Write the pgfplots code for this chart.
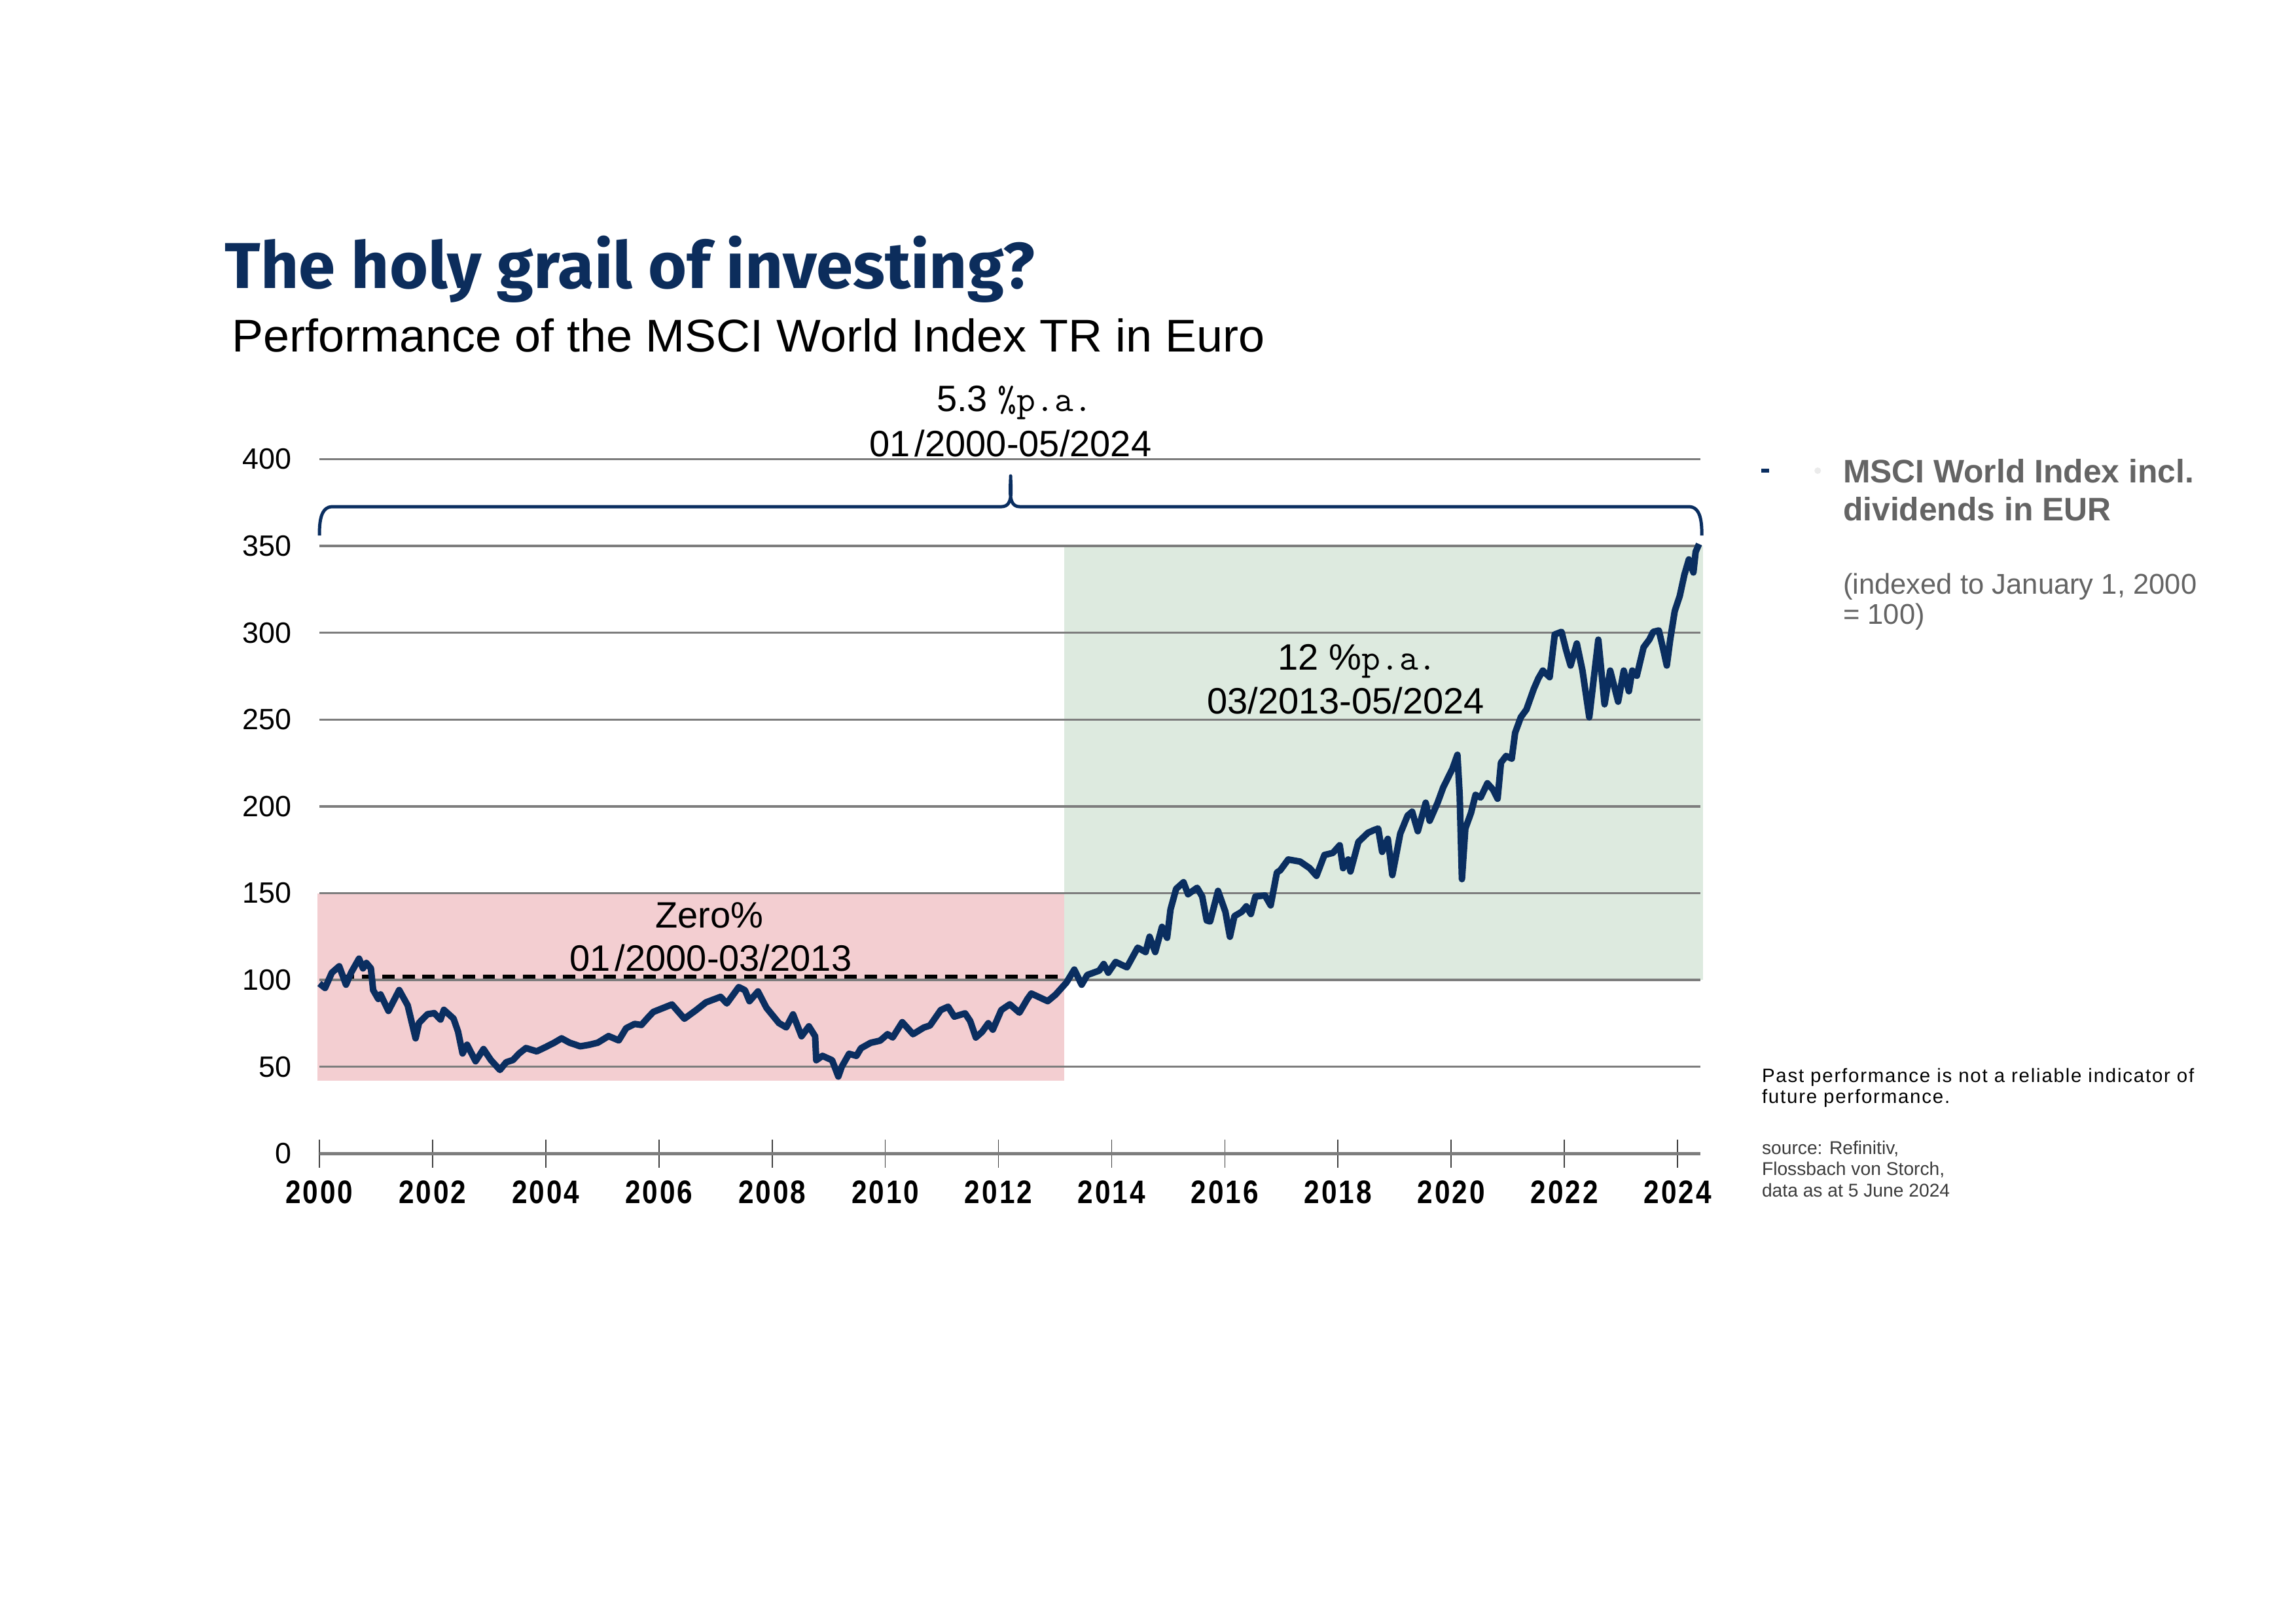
\documentclass[border=0pt]{standalone}
\usepackage{fontspec}
\setmainfont{Liberation Sans}
\newfontfamily\titlefont{Fira Sans}
\newfontfamily\yearfont[FakeStretch=0.85,LetterSpace=6]{Liberation Sans}
\newfontfamily\notefont[LetterSpace=6]{Liberation Sans}
\usepackage{pgfplots}
\usepackage{pgfplotstable}
\pgfplotsset{compat=1.18}

\definecolor{navy}{RGB}{10,46,96}
\definecolor{titlenavy}{RGB}{12,45,92}
\definecolor{pinkbg}{RGB}{243,206,209}
\definecolor{greenbg}{RGB}{221,234,223}
\definecolor{gridgray}{RGB}{125,125,125}
\definecolor{legendgray}{RGB}{100,100,100}
\definecolor{srcgray}{RGB}{60,60,60}

\pgfplotstableread{
year value
2000.00 98.0
2000.10 95.4
2000.22 104.2
2000.35 107.9
2000.47 97.3
2000.56 104.2
2000.70 112.3
2000.77 106.7
2000.83 109.8
2000.91 106.7
2000.95 94.2
2001.04 89.1
2001.08 91.7
2001.22 82.2
2001.41 94.2
2001.56 85.4
2001.70 66.4
2001.76 75.3
2001.91 80.3
2002.03 80.9
2002.14 77.2
2002.20 82.8
2002.37 77.8
2002.45 70.3
2002.53 57.7
2002.61 62.7
2002.76 53.2
2002.90 60.2
2003.03 53.9
2003.19 48.2
2003.30 52.6
2003.42 53.9
2003.53 57.7
2003.65 60.8
2003.84 58.9
2004.00 61.4
2004.15 63.9
2004.28 66.4
2004.42 63.9
2004.61 61.8
2004.77 62.7
2004.92 63.9
2005.11 67.7
2005.29 65.2
2005.42 72.2
2005.57 74.7
2005.69 74.1
2005.81 78.5
2005.90 81.6
2006.23 85.9
2006.45 77.7
2006.66 82.7
2006.83 87.1
2007.09 90.3
2007.20 86.5
2007.41 95.9
2007.52 94.1
2007.60 87.8
2007.75 93.4
2007.90 84.0
2008.12 75.2
2008.25 72.7
2008.37 80.2
2008.52 67.6
2008.65 73.3
2008.76 67.6
2008.78 53.8
2008.89 56.3
2009.06 53.8
2009.17 44.4
2009.23 50.0
2009.36 57.5
2009.49 56.3
2009.57 60.7
2009.74 63.8
2009.91 65.1
2010.04 68.8
2010.13 66.9
2010.30 75.7
2010.49 68.8
2010.68 72.6
2010.79 73.8
2010.98 82.7
2011.11 84.6
2011.22 78.9
2011.41 80.8
2011.50 76.4
2011.60 66.9
2011.71 70.1
2011.82 75.1
2011.90 71.4
2012.05 82.7
2012.20 86.0
2012.37 81.2
2012.51 89.0
2012.58 92.2
2012.87 87.8
2013.01 91.6
2013.20 98.5
2013.34 106.0
2013.47 97.3
2013.57 102.9
2013.78 105.4
2013.86 109.2
2013.94 104.2
2014.07 110.4
2014.27 107.3
2014.46 118.6
2014.60 116.1
2014.67 124.9
2014.77 116.1
2014.89 130.6
2014.98 124.3
2015.04 140.6
2015.14 152.5
2015.27 156.3
2015.35 149.4
2015.51 153.1
2015.60 148.1
2015.68 134.3
2015.74 133.7
2015.88 151.3
2016.01 139.3
2016.09 124.9
2016.17 136.8
2016.30 139.3
2016.38 142.4
2016.46 138.0
2016.54 148.1
2016.71 148.7
2016.81 143.0
2016.92 161.9
2016.98 163.2
2017.12 169.4
2017.33 168.2
2017.50 164.4
2017.62 160.0
2017.76 172.0
2017.91 173.2
2018.03 177.6
2018.09 164.4
2018.18 169.4
2018.22 162.5
2018.36 179.5
2018.53 184.8
2018.64 186.4
2018.71 187.2
2018.78 173.8
2018.88 181.3
2018.96 160.4
2019.10 184.3
2019.23 194.7
2019.31 196.9
2019.41 185.7
2019.55 202.1
2019.62 191.7
2019.76 202.1
2019.86 211.0
2020.02 221.5
2020.11 229.7
2020.15 206.6
2020.19 158.1
2020.25 187.2
2020.35 196.2
2020.43 206.6
2020.52 205.1
2020.64 213.3
2020.74 209.6
2020.82 204.4
2020.88 225.2
2020.97 229.0
2021.07 227.5
2021.13 242.4
2021.23 251.3
2021.33 255.8
2021.46 267.7
2021.54 273.7
2021.62 278.2
2021.74 274.4
2021.83 299.0
2021.95 300.5
2022.03 290.1
2022.11 281.1
2022.22 293.8
2022.32 278.2
2022.44 251.3
2022.52 273.7
2022.60 296.0
2022.71 258.8
2022.81 278.2
2022.95 260.3
2023.05 278.2
2023.14 266.3
2023.20 278.2
2023.28 275.2
2023.40 291.6
2023.50 296.0
2023.57 300.5
2023.67 301.3
2023.75 290.1
2023.81 281.1
2023.87 296.0
2023.95 312.4
2024.04 321.3
2024.12 333.3
2024.20 342.2
2024.28 334.7
2024.32 346.6
2024.38 351.1
}\msci

\pgfplotsset{
  common/.style={
    at={(41.316mm,60.789mm)}, anchor=south west,
    scale only axis, width=178.61mm, height=89.83mm,
    xmin=2000, xmax=2024.4, ymin=0, ymax=400,
    clip=false,
  }
}

\begin{document}
\begin{tikzpicture}
\fill[white] (0,0) rectangle (297mm,210mm);
\useasboundingbox (0,0) rectangle (297mm,210mm);
% background shaded periods
\begin{axis}[common, hide axis]
\addplot[draw=none, fill=pinkbg, mark=none]
  coordinates {(1999.97,42) (1999.97,150) (2013.16,150) (2013.16,42)};
\addplot[draw=none, fill=greenbg, mark=none]
  coordinates {(2013.16,100) (2013.16,350) (2024.45,350) (2024.45,100)};
\end{axis}
% main axis
\begin{axis}[
  common,
  axis lines*=left,
  y axis line style={draw=none},
  x axis line style={gridgray, line width=1.1pt},
  xtick={2000,2002,...,2024},
  ytick={0,50,...,400},
  ymajorgrids,
  grid style={gridgray, line width=0.8pt},
  tick align=center,
  major tick length=3.6mm,
  xtick style={draw=black!75, line width=0.4pt},
  ytick style={draw=none},
  scaled x ticks=false,
  /pgf/number format/assume math mode=true,
  /pgf/number format/1000 sep={},
  xticklabel style={font=\yearfont\bfseries\fontsize{12}{12}\selectfont, anchor=north, inner sep=0pt, yshift=-1.63mm},
  yticklabel style={font=\fontsize{10.8}{10}\selectfont, anchor=east, inner sep=0pt, xshift=-1.74mm},
]
\addplot[black, line width=1.4pt, dash pattern=on 1.6mm off 1.0mm, mark=none]
  coordinates {(2000.4,102) (2013.17,102)};
\addplot[navy, line width=2.4pt, line join=round, mark=none] table[x=year,y=value]{\msci};
\end{axis}

\begin{scope}[x=0.084664mm, y=-0.084664mm, shift={(0,210mm)}]
% brace
\draw[navy, line width=1.2pt, line join=round]
  (488,818) to[out=90,in=180] (508,774) -- (1530,774)
  to[out=0,in=-90] (1544,727) to[out=-90,in=180] (1558,774)
  -- (2580,774) to[out=0,in=90] (2600,818);
% title and subtitle
\node[anchor=base west, inner sep=0pt, text=titlenavy] at (343,440)
  {\resizebox{104.7mm}{6.8mm}{\titlefont\bfseries The holy grail of investing?}};
\node[anchor=base west, inner sep=0pt] at (354,537)
  {\resizebox{133.6mm}{4.3mm}{\fontsize{17}{17}\selectfont Performance of the MSCI World Index TR in Euro}};
% annotations
\node[anchor=base, inner sep=0pt] at (1550,628)
  {\fontsize{13.5}{13.5}\selectfont 5.3 {\ttfamily\%p.a.}};
\node[anchor=base, inner sep=0pt] at (1544,697)
  {\fontsize{13.5}{13.5}\selectfont 01\kern0.12em/2000-05/2024};
\node[anchor=base, inner sep=0pt] at (1084,1417)
  {\fontsize{13.5}{13.5}\selectfont Zero\%};
\node[anchor=base, inner sep=0pt] at (1086,1483)
  {\fontsize{13.5}{13.5}\selectfont 01\kern0.12em/2000-03/2013};
\node[anchor=base, inner sep=0pt] at (2074,1023)
  {\fontsize{13.5}{13.5}\selectfont 12 \%{\ttfamily p.a.}};
\node[anchor=base, inner sep=0pt] at (2056,1090)
  {\fontsize{13.5}{13.5}\selectfont 03/2013-05/2024};
% legend
\fill[navy] (2691,716) rectangle (2703,722);
\fill[black!8] (2777,719) circle (5);
\node[anchor=base west, inner sep=0pt, text=legendgray] at (2815,737)
  {\fontsize{12}{12}\selectfont\bfseries MSCI World Index incl.};
\node[anchor=base west, inner sep=0pt, text=legendgray] at (2815,795)
  {\fontsize{12}{12}\selectfont\bfseries dividends in EUR};
\node[anchor=base west, inner sep=0pt, text=legendgray] at (2815,907)
  {\fontsize{10.5}{10.5}\selectfont (indexed to January 1, 2000};
\node[anchor=base west, inner sep=0pt, text=legendgray] at (2815,953)
  {\fontsize{10.5}{10.5}\selectfont = 100)};
% notes
\node[anchor=base west, inner sep=0pt] at (2691,1653)
  {\notefont\fontsize{7.1}{7.1}\selectfont Past performance is not a reliable indicator of};
\node[anchor=base west, inner sep=0pt] at (2691,1685)
  {\notefont\fontsize{7.1}{7.1}\selectfont future performance.};
\node[anchor=base west, inner sep=0pt, text=srcgray] at (2691,1763)
  {\fontsize{6.8}{6.8}\selectfont source: Refinitiv,};
\node[anchor=base west, inner sep=0pt, text=srcgray] at (2691,1795)
  {\fontsize{6.8}{6.8}\selectfont Flossbach von Storch,};
\node[anchor=base west, inner sep=0pt, text=srcgray] at (2691,1828)
  {\fontsize{6.8}{6.8}\selectfont data as at 5 June 2024};
\end{scope}
\end{tikzpicture}
\end{document}
